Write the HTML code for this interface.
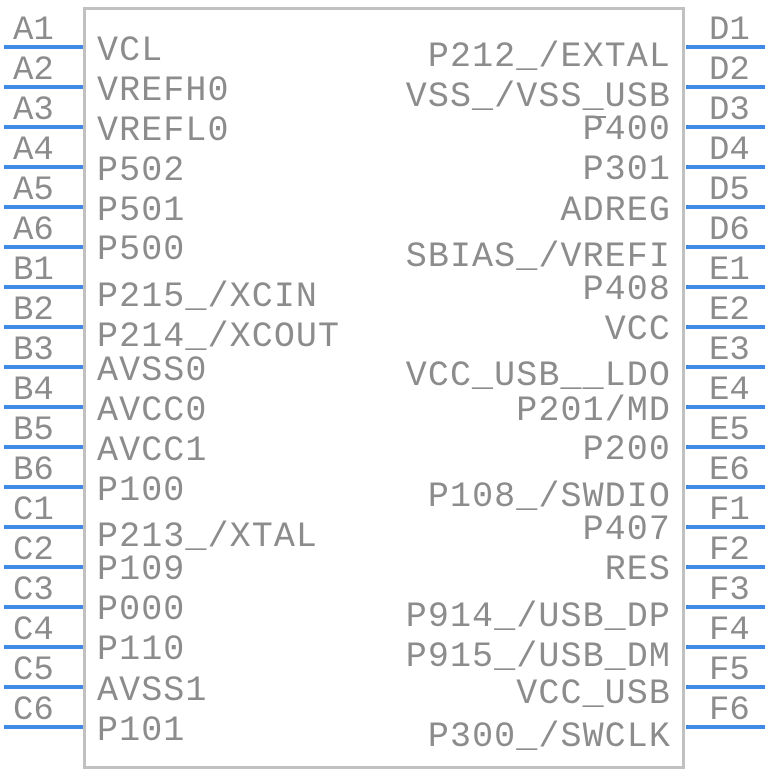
<!DOCTYPE html>
<html><head><style>html,body{margin:0;padding:0;background:#fff}text{font-family:"Liberation Mono",monospace}</style></head><body>
<svg width="768" height="772" xmlns="http://www.w3.org/2000/svg" font-size="34" fill="#8c8c8c">
<rect x="84.5" y="8.5" width="599" height="759" fill="#fff" stroke="#c0c0c0" stroke-width="3"/>
<g stroke="#3f8ae6" stroke-width="4">
<line x1="4" y1="47" x2="83" y2="47"/><line x1="4" y1="87" x2="83" y2="87"/><line x1="4" y1="127" x2="83" y2="127"/><line x1="4" y1="167" x2="83" y2="167"/><line x1="4" y1="207" x2="83" y2="207"/><line x1="4" y1="247" x2="83" y2="247"/><line x1="4" y1="287" x2="83" y2="287"/><line x1="4" y1="327" x2="83" y2="327"/><line x1="4" y1="367" x2="83" y2="367"/><line x1="4" y1="407" x2="83" y2="407"/><line x1="4" y1="447" x2="83" y2="447"/><line x1="4" y1="487" x2="83" y2="487"/><line x1="4" y1="527" x2="83" y2="527"/><line x1="4" y1="567" x2="83" y2="567"/><line x1="4" y1="607" x2="83" y2="607"/><line x1="4" y1="647" x2="83" y2="647"/><line x1="4" y1="687" x2="83" y2="687"/><line x1="4" y1="727" x2="83" y2="727"/>
<line x1="686" y1="47" x2="765" y2="47"/><line x1="686" y1="87" x2="765" y2="87"/><line x1="686" y1="127" x2="765" y2="127"/><line x1="686" y1="167" x2="765" y2="167"/><line x1="686" y1="207" x2="765" y2="207"/><line x1="686" y1="247" x2="765" y2="247"/><line x1="686" y1="287" x2="765" y2="287"/><line x1="686" y1="327" x2="765" y2="327"/><line x1="686" y1="367" x2="765" y2="367"/><line x1="686" y1="407" x2="765" y2="407"/><line x1="686" y1="447" x2="765" y2="447"/><line x1="686" y1="487" x2="765" y2="487"/><line x1="686" y1="527" x2="765" y2="527"/><line x1="686" y1="567" x2="765" y2="567"/><line x1="686" y1="607" x2="765" y2="607"/><line x1="686" y1="647" x2="765" y2="647"/><line x1="686" y1="687" x2="765" y2="687"/><line x1="686" y1="727" x2="765" y2="727"/>
</g>
<g>
<text x="13" y="39">A1</text><text x="13" y="79">A2</text><text x="13" y="119">A3</text><text x="13" y="159">A4</text><text x="13" y="199">A5</text><text x="13" y="239">A6</text><text x="13" y="279">B1</text><text x="13" y="319">B2</text><text x="13" y="359">B3</text><text x="13" y="399">B4</text><text x="13" y="439">B5</text><text x="13" y="479">B6</text><text x="13" y="519">C1</text><text x="13" y="559">C2</text><text x="13" y="599">C3</text><text x="13" y="639">C4</text><text x="13" y="679">C5</text><text x="13" y="719">C6</text>
<text x="709" y="39">D1</text><text x="709" y="79">D2</text><text x="709" y="119">D3</text><text x="709" y="159">D4</text><text x="709" y="199">D5</text><text x="709" y="239">D6</text><text x="709" y="279">E1</text><text x="709" y="319">E2</text><text x="709" y="359">E3</text><text x="709" y="399">E4</text><text x="709" y="439">E5</text><text x="709" y="479">E6</text><text x="709" y="519">F1</text><text x="709" y="559">F2</text><text x="709" y="599">F3</text><text x="709" y="639">F4</text><text x="709" y="679">F5</text><text x="709" y="719">F6</text>
</g>
<g font-size="35" letter-spacing="1.1">
<text x="97" y="60">VCL</text><text x="97" y="100">VREFH0</text><text x="97" y="140">VREFL0</text><text x="97" y="180">P502</text><text x="97" y="220">P501</text><text x="97" y="259">P500</text><text x="97" y="306">P215_/XCIN</text><text x="97" y="346">P214_/XCOUT</text><text x="97" y="380">AVSS0</text><text x="97" y="420">AVCC0</text><text x="97" y="460">AVCC1</text><text x="97" y="500">P100</text><text x="97" y="546">P213_/XTAL</text><text x="97" y="579">P109</text><text x="97" y="619">P000</text><text x="97" y="659">P110</text><text x="97" y="700">AVSS1</text><text x="97" y="740">P101</text>
</g>
<g font-size="35" letter-spacing="1.1" text-anchor="end">
<text x="671" y="66">P212_/EXTAL</text><text x="671" y="106">VSS_/VSS_USB</text><text x="671" y="139">P400</text><text x="671" y="179">P301</text><text x="671" y="220">ADREG</text><text x="671" y="266">SBIAS_/VREFI</text><text x="671" y="299">P408</text><text x="671" y="339">VCC</text><text x="671" y="385">VCC_USB__LDO</text><text x="671" y="420">P201/MD</text><text x="671" y="459">P200</text><text x="671" y="506">P108_/SWDIO</text><text x="671" y="539">P407</text><text x="671" y="579">RES</text><text x="671" y="626">P914_/USB_DP</text><text x="671" y="666">P915_/USB_DM</text><text x="671" y="703">VCC_USB</text><text x="671" y="746">P300_/SWCLK</text>
</g>
<line x1="586" y1="117" x2="606" y2="117" stroke="#8c8c8c" stroke-width="2"/>
</svg>
</body></html>
